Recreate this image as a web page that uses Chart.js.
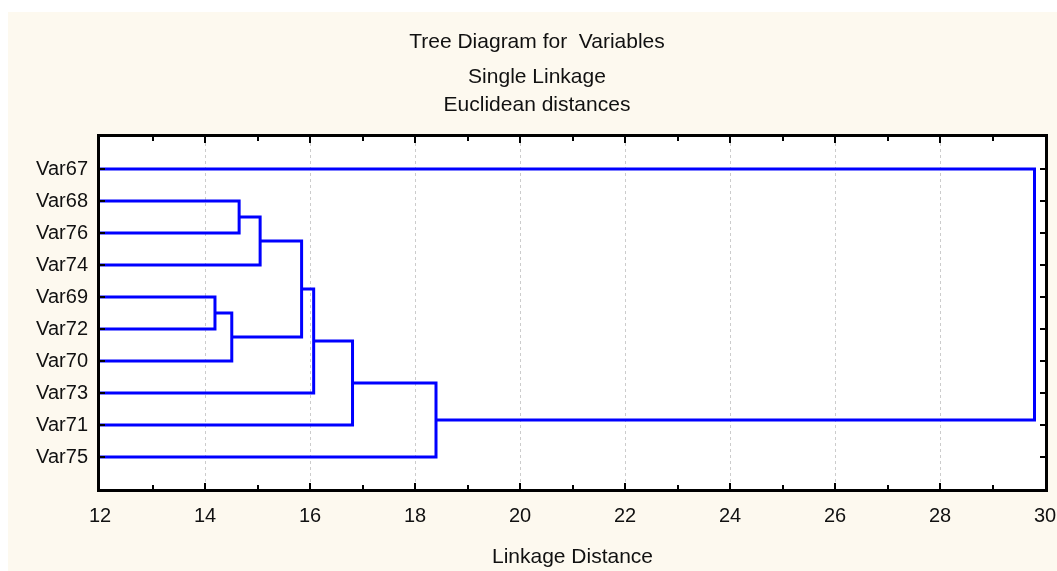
<!DOCTYPE html>
<html>
<head>
<meta charset="utf-8">
<title>Tree Diagram for Variables</title>
<script src="https://cdn.jsdelivr.net/npm/chart.js@4"></script>
<style>
    html, body { margin: 0; padding: 0; background: #ffffff; }
    #wrap { position: absolute; left: 0; top: 0; width: 1057px; height: 571px; }
</style>
</head>
<body>
<div id="wrap"><canvas id="treeChart"></canvas></div>
<script>
// leaf order, top to bottom
const leaves = ['Var67', 'Var68', 'Var76', 'Var74', 'Var69', 'Var72', 'Var70', 'Var73', 'Var71', 'Var75'];

// merges: index < 10 is a leaf, index >= 10 is the cluster made by merge (index - 10)
const mergeA = [1, 10, 4, 12, 11, 14, 15, 16, 0];
const mergeB = [2, 3, 5, 6, 13, 7, 8, 9, 17];
const mergeDist = [14.65, 15.05, 14.19, 14.51, 15.84, 16.07, 16.81, 18.40, 29.80];

const xMin = 12;
const xMax = 30;
const xStep = 2;

const titleText = 'Tree Diagram for  Variables';
const subtitleText = ['Single Linkage', 'Euclidean distances'];
const xTitle = 'Linkage Distance';

const FONT = "Arial, 'Liberation Sans', sans-serif";
const BLUE = '#0000ff';

// node position (row) and height for leaves and clusters
const nodeY = leaves.map((_, i) => i + 1);
const nodeH = leaves.map(() => 0);
const datasets = [];
mergeDist.forEach((d, i) => {
    const a = mergeA[i], b = mergeB[i];
    datasets.push({
        data: [
            { x: nodeH[a], y: nodeY[a] },
            { x: d, y: nodeY[a] },
            { x: d, y: nodeY[b] },
            { x: nodeH[b], y: nodeY[b] }
        ],
        showLine: true,
        borderColor: BLUE,
        borderWidth: 3,
        pointRadius: 0,
        borderJoinStyle: 'miter',
        borderCapStyle: 'butt'
    });
    nodeY.push((nodeY[a] + nodeY[b]) / 2);
    nodeH.push(d);
});

// cream panel behind everything
const panelBg = {
    id: 'panelBg',
    beforeDraw(chart) {
        const ctx = chart.ctx;
        ctx.save();
        ctx.fillStyle = '#fdf9ef';
        ctx.fillRect(8, 12, chart.width - 8, chart.height - 12);
        ctx.fillStyle = '#ffffff';
        const a = chart.chartArea;
        ctx.fillRect(a.left, a.top, a.right - a.left, a.bottom - a.top);
        ctx.restore();
    }
};

// frame with inward tick marks on all four sides
const frame = {
    id: 'frame',
    afterDraw(chart) {
        const ctx = chart.ctx;
        const a = chart.chartArea;
        const xs = chart.scales.x, ys = chart.scales.y;
        ctx.save();
        ctx.strokeStyle = '#000000';
        ctx.lineWidth = 2;
        ctx.beginPath();
        for (let v = xMin + 1; v < xMax; v++) {
            const px = Math.round(xs.getPixelForValue(v));
            const len = (v % 2 === 0) ? 6 : 4;
            ctx.moveTo(px, a.bottom); ctx.lineTo(px, a.bottom - len);
            ctx.moveTo(px, a.top); ctx.lineTo(px, a.top + len);
        }
        leaves.forEach((_, i) => {
            const py = Math.round(ys.getPixelForValue(i + 1));
            ctx.moveTo(a.left, py); ctx.lineTo(a.left + 5, py);
            ctx.moveTo(a.right, py); ctx.lineTo(a.right - 5, py);
        });
        ctx.stroke();
        ctx.lineWidth = 3;
        ctx.strokeRect(a.left - 1.5, a.top - 1.5, a.right - a.left + 3, a.bottom - a.top + 3);
        ctx.restore();
    }
};

new Chart(document.getElementById('treeChart'), {
    type: 'scatter',
    data: { datasets },
    options: {
        responsive: true,
        maintainAspectRatio: false,
        animation: false,
        layout: { padding: { left: 29, right: 12, top: 12, bottom: 0 } },
        plugins: {
            legend: { display: false },
            tooltip: { enabled: false },
            title: {
                display: true,
                text: titleText,
                color: '#111111',
                font: { family: FONT, size: 21, weight: 'normal', lineHeight: 1.2 },
                padding: { top: 18, bottom: 0 }
            },
            subtitle: {
                display: true,
                text: subtitleText,
                color: '#111111',
                font: { family: FONT, size: 21, weight: 'normal', lineHeight: 28 / 21 },
                padding: { top: 8, bottom: 17.8 }
            }
        },
        scales: {
            x: {
                type: 'linear',
                min: xMin,
                max: xMax,
                afterFit: (s) => {
                    s.height = 82;
                    s.paddingLeft = 0;
                    s.paddingRight = 0;
                },
                ticks: {
                    stepSize: xStep,
                    padding: 15,
                    color: '#111111',
                    font: { family: FONT, size: 20 }
                },
                grid: {
                    drawTicks: false,
                    lineWidth: 1,
                    color: (c) => (c.tick && (c.tick.value === xMin || c.tick.value === xMax)) ? 'rgba(0,0,0,0)' : '#cccccc'
                },
                border: { display: false, dash: [3, 3] },
                title: {
                    display: true,
                    text: xTitle,
                    color: '#111111',
                    font: { family: FONT, size: 21 },
                    padding: { top: 0, bottom: 1.4 }
                }
            },
            y: {
                type: 'linear',
                reverse: true,
                min: 0,
                max: leaves.length + 1,
                afterFit: (s) => {
                    s.width = 71;
                    s.paddingTop = 0;
                    s.paddingBottom = 0;
                },
                afterBuildTicks: (s) => { s.ticks = leaves.map((_, i) => ({ value: i + 1 })); },
                ticks: {
                    padding: 12,
                    color: '#111111',
                    font: { family: FONT, size: 20 },
                    callback: (v) => leaves[v - 1]
                },
                grid: { display: false, drawTicks: false },
                border: { display: false }
            }
        }
    },
    plugins: [panelBg, frame]
});
</script>
</body>
</html>
